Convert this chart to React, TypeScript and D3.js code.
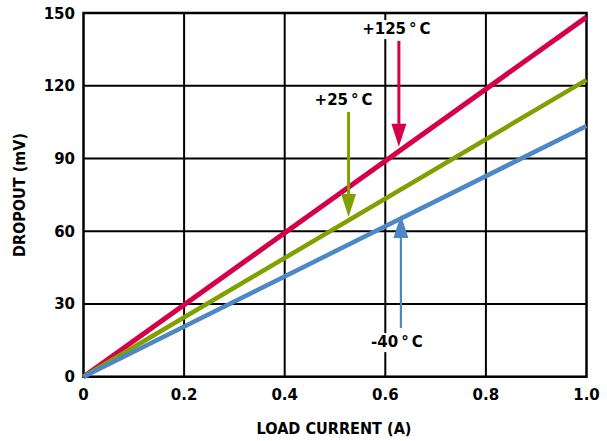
import React from "react";
import * as d3 from "d3";

const xTicks = [0, 0.2, 0.4, 0.6, 0.8, 1.0];
const xTickLabels = ["0", "0.2", "0.4", "0.6", "0.8", "1.0"];
const yTicks = [0, 30, 60, 90, 120, 150];
const currents = [0, 1.0];
const dropout125 = [0, 148.3];
const dropout25 = [0, 122.4];
const dropoutM40 = [0, 103.4];

const series = [
  { name: "+125°C", values: dropout125, color: "#d6004a", width: 5 },
  { name: "+25°C", values: dropout25, color: "#7ea100", width: 4.5 },
  { name: "-40°C", values: dropoutM40, color: "#4f86c5", width: 4.5 },
];

// annotation: label position (data), arrow from/to (data)
const annotations = [
  { label: "+125°C", color: "#d6004a", lx: 0.622, ly: 141.3, ax: 0.627, y0: 138.5, y1: 94.8, sw: 3 },
  { label: "+25°C", color: "#7ea100", lx: 0.517, ly: 112.1, ax: 0.527, y0: 109.2, y1: 65.9, sw: 3 },
  { label: "-40°C", color: "#4f86c5", lx: 0.623, ly: 12.2, ax: 0.631, y0: 20.1, y1: 66.7, sw: 2.2 },
];

export default function App() {
  const W = 607, H = 441;
  const m = { left: 83.5, right: 586.5, top: 13, bottom: 376.7 };
  const x = d3.scaleLinear().domain([0, 1]).range([m.left, m.right]);
  const y = d3.scaleLinear().domain([0, 150]).range([m.bottom, m.top]);
  const font = "'DejaVu Sans', 'Liberation Sans', Arial, sans-serif";
  const line = d3.line<[number, number]>().x(d => x(d[0])).y(d => y(d[1]));

  return (
    <svg width={W} height={H} style={{ position: "absolute", left: 0, top: 0 }} fontFamily={font}>
      <rect width={W} height={H} fill="#fff" />
      {xTicks.slice(1, -1).map(t => (
        <line key={"vx" + t} x1={x(t)} x2={x(t)} y1={m.top} y2={m.bottom} stroke="#000" strokeWidth={2} />
      ))}
      {yTicks.slice(1, -1).map(t => (
        <line key={"hy" + t} x1={m.left} x2={m.right} y1={y(t)} y2={y(t)} stroke="#000" strokeWidth={2} />
      ))}
      <rect x={m.left} y={m.top} width={m.right - m.left} height={m.bottom - m.top} fill="none" stroke="#000" strokeWidth={2.5} />
      {yTicks.map(t => (
        <text key={"yl" + t} x={75} y={y(t) + 5.5} textAnchor="end" fontSize={15} fontWeight="bold">{t}</text>
      ))}
      {xTicks.map((t, i) => (
        <text key={"xl" + t} x={x(t)} y={400} textAnchor="middle" fontSize={15} fontWeight="bold">{xTickLabels[i]}</text>
      ))}
      <text x={334} y={434} textAnchor="middle" fontSize={15.5} fontWeight="bold" textLength={155} lengthAdjust="spacingAndGlyphs">LOAD CURRENT (A)</text>
      <text transform={`translate(24.5,195) rotate(-90)`} textAnchor="middle" fontSize={15} fontWeight="bold" textLength={124} lengthAdjust="spacingAndGlyphs">DROPOUT (mV)</text>

      {series.map(s => (
        <path key={s.name} d={line(currents.map((c, i) => [c, s.values[i]]) as [number, number][]) || ""} fill="none" stroke={s.color} strokeWidth={s.width} strokeLinecap="butt" />
      ))}

      {annotations.map(a => {
        const tx = x(a.ax);
        const ys = y(a.y0), ye = y(a.y1);
        const dir = ye > ys ? 1 : -1;
        const head = 23, hw = 7.5;
        const label = a.label.replace("°", "\u2009°\u2009");
        return (
          <g key={a.label}>
            <rect x={x(a.lx) - 34} y={y(a.ly) - 14} width={68} height={19} fill="#fff" />
            <text x={x(a.lx)} y={y(a.ly)} textAnchor="middle" fontSize={15} fontWeight="bold">{label}</text>
            <line x1={tx} x2={tx} y1={ys} y2={ye - dir * head} stroke={a.color} strokeWidth={a.sw} />
            <path d={`M${tx - hw},${ye - dir * head} L${tx + hw},${ye - dir * head} L${tx},${ye} Z`} fill={a.color} />
          </g>
        );
      })}
    </svg>
  );
}
